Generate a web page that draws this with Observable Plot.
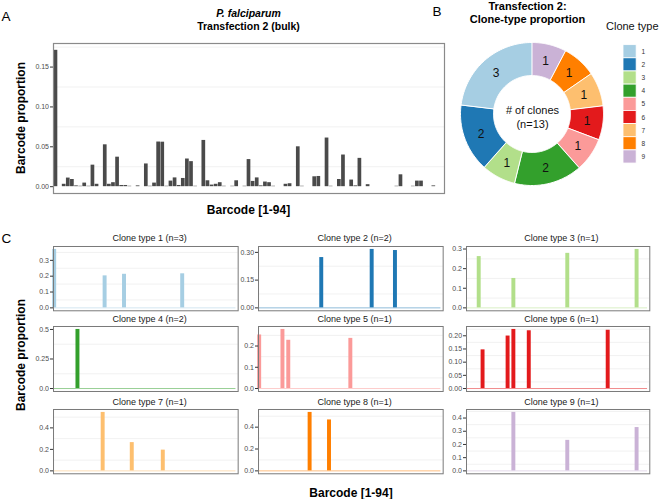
<!DOCTYPE html>
<html><head><meta charset="utf-8">
<script src="https://cdn.jsdelivr.net/npm/d3@7"></script>
<script src="https://cdn.jsdelivr.net/npm/@observablehq/plot@0.6"></script>
<style>
body{margin:0;background:#fff;}
#fig{position:relative;width:660px;height:499px;overflow:hidden;background:#fff;}
#fig > div{position:absolute;}
svg{overflow:visible;}
</style></head><body><div id="fig"></div>
<script>
// ---------------- data ----------------
const barcodes = d3.range(1, 95);
const bulkProportion = [
 0.171,0,0.003,0.0108,0.009,0.001,0.0005,0.0045,0.0005,0.027,
 0.003,0,0.0525,0.003,0.005,0.037,0.0015,0.0015,0.0005,0,
 0.001,0,0.0285,0.0005,0.0045,0.056,0.0558,0.0005,0.007,0.011,
 0.0015,0.0103,0.0347,0.0314,0.0005,0,0.058,0.0074,0.002,0.003,
 0.005,0.0005,0,0.0005,0.0074,0,0.0005,0.034,0.0066,0.011,
 0.001,0.0058,0.005,0.0005,0,0,0.003,0.0037,0,0.050,
 0.0005,0,0,0.0124,0.0128,0,0.061,0.0005,0,0.009,
 0.0397,0,0.0083,0.001,0.0355,0,0.0025,0,0,0,
 0,0,0,0.0005,0.0149,0,0,0.0005,0.007,0.007,
 0,0,0.001,0];
const bulkTicks = [0, 0.05, 0.10, 0.15];
const bulkTickLabels = ["0.00", "0.05", "0.10", "0.15"];

const cloneTypes = [1,2,3,4,5,6,7,8,9];
const cloneCounts = [3,2,1,2,1,1,1,1,1];
const cloneColors = ["#a6cee3","#1f78b4","#b2df8a","#33a02c","#fb9a99","#e31a1c","#fdbf6f","#ff7f00","#cab2d6"];
const cloneBarcodes = [[1,27,37,67],[33,59,71],[7,25,53,89],[13],[1,13,16,48],[9,22,25,33,74],[26,41,57],[27,37],[25,53,89]];
const cloneValues = [[0.369,0.202,0.212,0.215],[0.272,0.316,0.31],[0.2615,0.15,0.278,0.298],[0.5],[0.252,0.278,0.227,0.236],[0.1466,0.199,0.224,0.219,0.221],[0.544,0.263,0.193],[0.535,0.466],[0.4425,0.231,0.328]];
const cloneTicks = [[0,0.1,0.2,0.3],[0,0.15,0.3],[0,0.1,0.2,0.3],[0,0.25,0.5],[0,0.1,0.2],[0,0.05,0.1,0.15,0.2],[0,0.2,0.4],[0,0.2,0.4],[0,0.1,0.2,0.3,0.4]];
const cloneTickLabels = [["0.0","0.1","0.2","0.3"],["0.00","0.15","0.30"],["0.0","0.1","0.2","0.3"],["0.0","0.25","0.5"],["0.0","0.1","0.2"],["0.00","0.05","0.10","0.15","0.20"],["0.0","0.2","0.4"],["0.0","0.2","0.4"],["0.0","0.1","0.2","0.3","0.4"]];

// ---------------- helpers ----------------
const FONT = 'Arial, "Liberation Sans", Helvetica, sans-serif';
const fig = document.getElementById("fig");
function place(node, left, top) {
  const d = document.createElement("div");
  d.style.left = left + "px"; d.style.top = top + "px";
  d.appendChild(node); fig.appendChild(d);
}
function minors(ticks, dom) {
  const step = ticks[1] - ticks[0];
  const m = [ticks[0] - step / 2, ...ticks.map(v => v + step / 2)];
  return m.filter(v => v > dom[0] && v < dom[1]);
}
const style = {fontFamily: FONT, fontSize: "7px", background: "transparent", overflow: "visible", color: "#4d4d4d"};
const xDom = [d3.min(barcodes) - 0.6, d3.max(barcodes) + 1.6];

// ---------------- Panel A ----------------
{
  const data = barcodes.map((b, i) => ({barcode: b, value: bulkProportion[i]}));
  const max = d3.max(bulkProportion);
  const dom = [-0.05 * max, 1.05 * max];
  const p = Plot.plot({
    width: 450, height: 200, marginLeft: 53, marginRight: 6, marginTop: 43, marginBottom: 7,
    x: {domain: xDom, axis: null},
    y: {domain: dom, label: null},
    style,
    marks: [
      Plot.ruleY(minors(bulkTicks, dom), {stroke: "#ebebeb", strokeWidth: 0.7}),
      Plot.rectY(data, {x1: d => d.barcode - 0.45, x2: d => d.barcode + 0.45, y: "value", fill: "#4a4a4a"}),
      Plot.axisY(bulkTicks, {tickSize: 3, tickPadding: 1.5, tickFormat: d => bulkTickLabels[bulkTicks.indexOf(d)], fontSize: 7, fill: "#4d4d4d", stroke: "#333", label: null}),
      Plot.frame({stroke: "#8a8a8a", strokeWidth: 1.2})
    ]
  });
  place(p, 0, 0);
}

// ---------------- Panel B: donut ----------------
const total = d3.sum(cloneCounts);
{
  const rIn = 38.5 / 71.5;
  let cum = 0;
  const sliceRows = [], sliceLabels = [];
  cloneTypes.forEach((t, k) => {
    const a0 = 2 * Math.PI * cum / total; cum += cloneCounts[k];
    const a1 = 2 * Math.PI * cum / total;
    const n = 48;
    for (let j = 0; j <= n; j++) {
      const a = a0 + (a1 - a0) * j / n;
      sliceRows.push({type: t, x1: -Math.sin(a), y1: Math.cos(a), x2: -rIn * Math.sin(a), y2: rIn * Math.cos(a)});
    }
    const am = (a0 + a1) / 2, rm = (1 + rIn) / 2;
    sliceLabels.push({type: t, count: cloneCounts[k], x: -rm * Math.sin(am), y: rm * Math.cos(am)});
  });
  const p = Plot.plot({
    width: 156, height: 156, margin: 6.5,
    x: {domain: [-1, 1], axis: null},
    y: {domain: [-1, 1], axis: null},
    color: {type: "ordinal", domain: cloneTypes, range: cloneColors},
    style: {...style, fontSize: "11px"},
    marks: [
      Plot.area(sliceRows, {x1: "x1", y1: "y1", x2: "x2", y2: "y2", z: "type", fill: "type", stroke: "white", strokeWidth: 1}),
      Plot.text(sliceLabels, {x: "x", y: "y", text: "count", fontSize: 12, fill: "#111"}),
      Plot.text([`# of clones\n(n=${total})`], {frameAnchor: "middle", fontSize: 11, lineHeight: 1.3, fill: "#111", dy: 2})
    ]
  });
  place(p, 532.3 - 78, 113.8 - 78);
}

// ---------------- Legend ----------------
{
  const p = Plot.plot({
    width: 45, height: 147, marginLeft: 0, marginRight: 29, marginTop: 0, marginBottom: 0,
    x: {axis: null},
    y: {type: "band", domain: cloneTypes, axis: null, padding: 0},
    color: {type: "ordinal", domain: cloneTypes, range: cloneColors},
    style: {...style, fontSize: "8px"},
    marks: [
      Plot.cell(cloneTypes, {y: d => d, fill: d => d, stroke: "white", strokeWidth: 1}),
      Plot.text(cloneTypes, {y: d => d, text: d => String(d), frameAnchor: "right", textAnchor: "start", dx: 6, fontSize: 8, fill: "#333"})
    ]
  });
  place(p, 623, 42.7);
}

// ---------------- Panel C facets ----------------
const colLeft = [53.3, 258.3, 465.7], colRight = [238, 443, 649];
const rowTop = [245.7, 326.3, 409], rowBottom = [310, 391.3, 473.3];
const facetTitles = [];
cloneTypes.forEach((t, k) => {
  const col = k % 3, row = Math.floor(k / 3);
  const L = colLeft[col], R = colRight[col], T = rowTop[row], B = rowBottom[row];
  const color = cloneColors[k];
  const data = cloneBarcodes[k].map((b, j) => ({barcode: b, value: cloneValues[k][j]}));
  const max = d3.max(cloneValues[k]);
  const dom = [-0.05 * max, 1.05 * max];
  const ticks = cloneTicks[k], labels = cloneTickLabels[k];
  const p = Plot.plot({
    width: R - L + 33, height: B - T + 6, marginLeft: 30, marginRight: 3, marginTop: 3, marginBottom: 3,
    x: {domain: xDom, axis: null},
    y: {domain: dom, label: null},
    style,
    marks: [
      Plot.ruleY(minors(ticks, dom), {stroke: "#ebebeb", strokeWidth: 0.7}),
      Plot.ruleY([0], {x1: d3.min(barcodes) - 0.45, x2: d3.max(barcodes) + 0.45, stroke: color, strokeOpacity: 0.5, strokeWidth: 1}),
      Plot.rectY(data, {x1: d => d.barcode - 0.45, x2: d => d.barcode + 0.45, y: "value", fill: color, insetLeft: -1.1, insetRight: -1.1}),
      Plot.axisY(ticks, {tickSize: 3, tickPadding: 1.5, tickFormat: d => labels[ticks.indexOf(d)], fontSize: 7, fill: "#4d4d4d", stroke: "#333", label: null}),
      Plot.frame({stroke: "#7a7a7a", strokeWidth: 1})
    ]
  });
  place(p, L - 30, T - 3);
  facetTitles.push({text: `Clone type ${t} (n=${cloneCounts[k]})`, x: (L + R) / 2 + 4, y: T - 4.5});
});

// ---------------- text overlay ----------------
const svg = d3.create("svg").attr("width", 660).attr("height", 499)
  .style("position", "absolute").style("left", 0).style("top", 0).style("pointer-events", "none")
  .attr("font-family", FONT);
function txt(s, x, y, size, opts = {}) {
  const t = svg.append("text").attr("x", x).attr("y", y).attr("font-size", size)
    .attr("text-anchor", opts.anchor || "start").attr("fill", opts.fill || "#000")
    .attr("font-weight", opts.weight || "normal").attr("font-style", opts.style || "normal").text(s);
  if (opts.rotate) t.attr("transform", `rotate(-90 ${x} ${y})`);
  return t;
}
txt("A", 1.5, 21, 13.5);
txt("B", 432.5, 16, 13.5);
txt("C", 1.5, 243, 13.5);
txt("P. falciparum", 248.5, 17, 10.5, {anchor: "middle", weight: "bold", style: "italic"});
txt("Transfection 2 (bulk)", 248.5, 30, 10.5, {anchor: "middle", weight: "bold"});
txt("Barcode proportion", 24.5, 118, 12, {anchor: "middle", weight: "bold", rotate: true});
txt("Barcode [1-94]", 248.5, 214, 12, {anchor: "middle", weight: "bold"});
txt("Transfection 2:", 527.5, 10, 11, {anchor: "middle", weight: "bold"});
txt("Clone-type proportion", 527.5, 23, 11, {anchor: "middle", weight: "bold"});
txt("Clone type", 606, 29.5, 11, {fill: "#111"});
txt("Barcode proportion", 24.5, 355, 12, {anchor: "middle", weight: "bold", rotate: true});
txt("Barcode [1-94]", 351, 497, 12, {anchor: "middle", weight: "bold"});
facetTitles.forEach(f => txt(f.text, f.x, f.y, 9, {anchor: "middle", fill: "#1a1a1a"}));
fig.appendChild(svg.node());
</script>
</body></html>
